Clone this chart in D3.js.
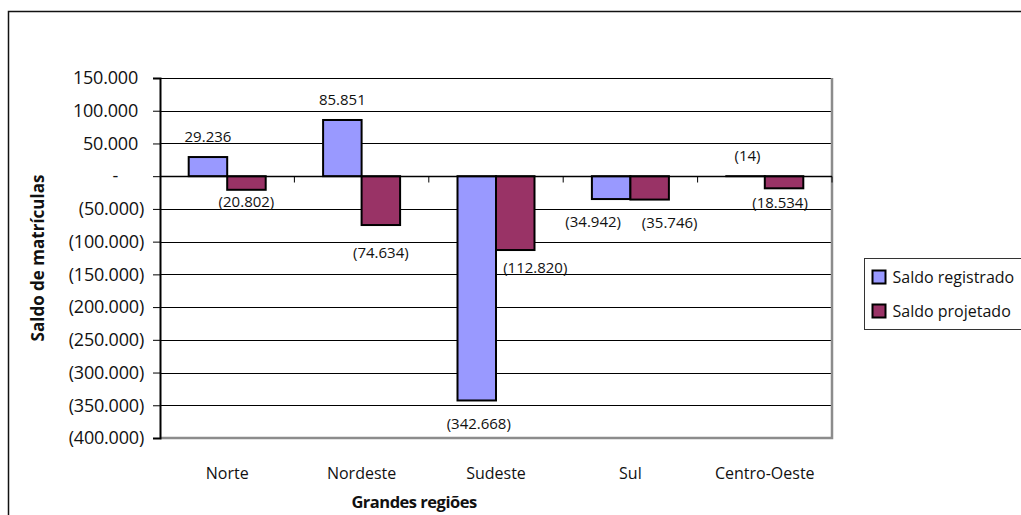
<!DOCTYPE html>
<html>
<head>
<meta charset="utf-8">
<script src="https://cdn.jsdelivr.net/npm/d3@7"></script>
<style>
  body { margin: 0; background: #fff; }
  svg { display: block; font-family: "Open Sans", sans-serif; }
</style>
</head>
<body>
<script>
const width = 1021, height = 515;

// data
const regions = ["Norte", "Nordeste", "Sudeste", "Sul", "Centro-Oeste"];
const seriesNames = ["Saldo registrado", "Saldo projetado"];
const registrado = [29236, 85851, -342668, -34942, -14];
const projetado = [-20802, -74634, -112820, -35746, -18534];
const yTicks = [150000, 100000, 50000, 0, -50000, -100000, -150000, -200000, -250000, -300000, -350000, -400000];

// hand-placed label nudges (as in the original sheet)
const nudgeReg = [[0, 0], [0, 0], [2, 12], [-18, 11], [2, -32]];
const nudgeProj = [[0, 0], [0, 16], [20, 6], [20, 11], [-4, 3]];

const colors = ["#9999ff", "#993366"];
const plot = { left: 160, right: 832, top: 78, bottom: 438 };

const fmtLocale = d3.formatLocale({ decimal: ",", thousands: ".", grouping: [3], currency: ["", ""] });
const f = fmtLocale.format(",d");
const fmt = v => v === 0 ? "-" : v < 0 ? `(${f(-v)})` : f(v);

const svg = d3.select("body").append("svg")
    .attr("width", width)
    .attr("height", height);

// outer frame
svg.append("rect")
    .attr("x", 8.5).attr("y", 11.5)
    .attr("width", 1100).attr("height", 600)
    .attr("fill", "none").attr("stroke", "#111").attr("stroke-width", 1.5);

const x = d3.scaleBand().domain(regions).range([plot.left, plot.right]);
const y = d3.scaleLinear().domain([-400000, 150000]).range([plot.bottom, plot.top]);
const barW = 38.5;

// gridlines
svg.append("g")
    .selectAll("line")
    .data(yTicks)
    .enter().append("line")
    .attr("x1", plot.left).attr("x2", plot.right)
    .attr("y1", d => Math.round(y(d)) + 0.5).attr("y2", d => Math.round(y(d)) + 0.5)
    .attr("stroke", "#000").attr("stroke-width", 1);

// plot frame right/bottom (grey)
svg.append("path")
    .attr("d", `M${plot.right},${plot.top}V${plot.bottom}H${plot.left}`)
    .attr("fill", "none").attr("stroke", "#8c8c8c").attr("stroke-width", 2.5);

// y axis
const yAxis = svg.append("g")
    .attr("transform", `translate(${plot.left},0)`)
    .call(d3.axisLeft(y).tickValues(yTicks).tickSize(7).tickFormat(""));
yAxis.select(".domain").attr("stroke", "#000").attr("stroke-width", 2);
yAxis.selectAll(".tick line").attr("stroke", "#000");

svg.append("g")
    .selectAll("text")
    .data(yTicks)
    .enter().append("text")
    .attr("x", d => d > 0 ? 138 : d === 0 ? 118 : 144)
    .attr("y", d => y(d))
    .attr("dy", "0.35em")
    .attr("text-anchor", "end")
    .attr("font-size", 18)
    .attr("letter-spacing", -0.2)
    .attr("fill", "#111")
    .text(fmt);

// bars
[registrado, projetado].forEach((vals, s) => {
    svg.append("g")
        .selectAll("rect")
        .data(regions)
        .enter().append("rect")
        .attr("x", d => x(d) + x.bandwidth() / 2 - barW + s * barW)
        .attr("y", (d, i) => y(Math.max(0, vals[i])))
        .attr("width", barW)
        .attr("height", (d, i) => Math.abs(y(vals[i]) - y(0)))
        .attr("fill", colors[s])
        .attr("stroke", "#000")
        .attr("stroke-width", 2);
});

// x axis at zero
const xAxis = svg.append("g")
    .attr("transform", `translate(0,${Math.round(y(0)) + 0.5})`);
xAxis.append("line")
    .attr("x1", plot.left).attr("x2", plot.right)
    .attr("stroke", "#000").attr("stroke-width", 1.5);
xAxis.selectAll(".tk")
    .data(regions)
    .enter().append("line")
    .attr("x1", d => x(d) + x.bandwidth()).attr("x2", d => x(d) + x.bandwidth())
    .attr("y1", 0).attr("y2", 6)
    .attr("stroke", "#000");

// category labels
svg.append("g")
    .selectAll("text")
    .data(regions)
    .enter().append("text")
    .attr("x", d => x(d) + x.bandwidth() / 2)
    .attr("y", 479)
    .attr("text-anchor", "middle")
    .attr("font-size", 16)
    .attr("fill", "#111")
    .text(d => d);

// data labels
[[registrado, nudgeReg], [projetado, nudgeProj]].forEach(([vals, nudge], s) => {
    svg.append("g")
        .selectAll("text")
        .data(regions)
        .enter().append("text")
        .attr("x", (d, i) => x(d) + x.bandwidth() / 2 - barW / 2 + s * barW + nudge[i][0])
        .attr("y", (d, i) => (vals[i] >= 0 ? y(vals[i]) - 15 : y(vals[i]) + 17) + nudge[i][1])
        .attr("text-anchor", "middle")
        .attr("font-size", 15)
        .attr("fill", "#111")
        .text((d, i) => fmt(vals[i]));
});

// axis titles
svg.append("text")
    .attr("transform", `translate(44,${(plot.top + plot.bottom) / 2}) rotate(-90)`)
    .attr("text-anchor", "middle")
    .attr("font-size", 17)
    .attr("font-weight", "bold")
    .attr("fill", "#111")
    .text("Saldo de matrículas");

svg.append("text")
    .attr("x", 414).attr("y", 508)
    .attr("text-anchor", "middle")
    .attr("font-size", 16.5)
    .attr("font-weight", "bold")
    .attr("letter-spacing", -0.5)
    .attr("fill", "#111")
    .text("Grandes regiões");

// legend
const legend = svg.append("g").attr("transform", "translate(864.5,258.5)");
legend.append("rect")
    .attr("width", 200).attr("height", 71)
    .attr("fill", "#fff").attr("stroke", "#333").attr("stroke-width", 1);
legend.selectAll(".sw")
    .data(seriesNames)
    .enter().append("rect")
    .attr("x", 8).attr("y", (d, i) => 12 + i * 34)
    .attr("width", 13).attr("height", 13)
    .attr("fill", (d, i) => colors[i])
    .attr("stroke", "#000").attr("stroke-width", 2);
legend.selectAll("text")
    .data(seriesNames)
    .enter().append("text")
    .attr("x", 28).attr("y", (d, i) => 18.5 + i * 34)
    .attr("dy", "0.35em")
    .attr("font-size", 16)
    .attr("fill", "#111")
    .text(d => d);
</script>
</body>
</html>
